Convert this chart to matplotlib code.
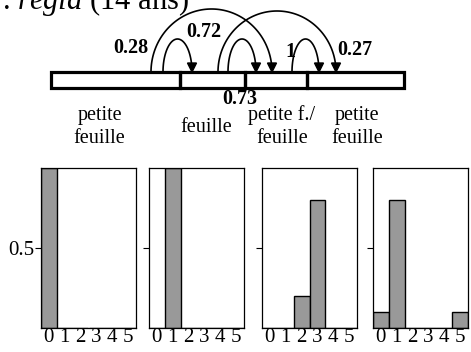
import numpy as np
import matplotlib.pyplot as plt
from matplotlib.patches import Rectangle, Polygon

plt.rcParams['font.family'] = 'Liberation Serif'
plt.rcParams['mathtext.fontset'] = 'custom'
plt.rcParams['mathtext.rm'] = 'Liberation Serif'
plt.rcParams['mathtext.it'] = 'Liberation Serif:italic'

# histogram data (one panel per leaf type)
categories = [0, 1, 2, 3, 4, 5]
panel1 = [1.0, 0, 0, 0, 0, 0]
panel2 = [0, 1.0, 0, 0, 0, 0]
panel3 = [0, 0, 0.2, 0.8, 0, 0]
panel4 = [0.1, 0.8, 0, 0, 0, 0.1]
panels = [panel1, panel2, panel3, panel4]

# transition diagram data
seg_labels = [['petite', 'feuille'], ['feuille'], ['petite f./', 'feuille'], ['petite', 'feuille']]
probs = ['0.28', '0.72', '0.73', '0.27', '1']

W, H = 471, 352
fig = plt.figure(figsize=(W / 100, H / 100), dpi=100)

# ---- top diagram, drawn in pixel coordinates ----
top = fig.add_axes([0, 0, 1, 1])
top.set_xlim(0, W)
top.set_ylim(H, 0)
top.axis('off')

top.text(2, 9, r'. $\mathit{regia}$ (14 ans)', fontsize=22, va='baseline', ha='left')

bar_y0, bar_y1 = 72, 88
edges = [51, 180, 245, 307, 404]
for i in range(4):
    top.add_patch(Rectangle((edges[i], bar_y0), edges[i + 1] - edges[i], bar_y1 - bar_y0,
                            fill=False, lw=2.3, ec='black', zorder=3))

# arcs: start x, end x, height, label position, label alignment
arc_layout = [
    (151, 272, 63, (131, 48), 'center'),
    (163, 192, 33, (204, 32), 'center'),
    (228, 256, 33, (240, 99), 'center'),
    (218, 336, 61, (337, 50), 'left'),
    (292, 319, 33, (290, 52), 'center'),
]
for (x0, x1, h, (lx, ly), ha), p in zip(arc_layout, probs):
    t = np.linspace(np.pi, 0, 120)
    cx, a = (x0 + x1) / 2, (x1 - x0) / 2
    xs = cx + a * np.cos(t)
    ys = bar_y0 - h * np.sin(t)
    # stop the line where the arrowhead starts
    end_part = (t < np.pi / 2) & (ys > bar_y0 - 8)
    top.plot(xs[~end_part], ys[~end_part], color='black', lw=1.2, zorder=4)
    top.add_patch(Polygon([(x1 - 4.5, bar_y0 - 9), (x1 + 4.5, bar_y0 - 9), (x1, bar_y0)],
                          closed=True, color='black', zorder=4))
    top.text(lx, ly, p, fontsize=14.5, fontweight='bold', ha=ha, va='center')

label_x = [99.5, 206, 282, 357]
for x, lines in zip(label_x, seg_labels):
    base = [120, 143] if len(lines) == 2 else [132]
    for b, s in zip(base, lines):
        top.text(x, b, s, fontsize=14.5, ha='center', va='baseline')

# ---- histograms ----
panel_x = [41, 149, 262, 373]
panel_w = 95
py0, py1 = 168, 328
for i, (px, vals) in enumerate(zip(panel_x, panels)):
    ax = fig.add_axes([px / W, 1 - py1 / H, panel_w / W, (py1 - py0) / H])
    ax.bar(categories, vals, width=1, color='#999999', edgecolor='black', lw=1)
    ax.set_xlim(-0.5, 5.5)
    ax.set_ylim(0, 1)
    ax.set_xticks(categories)
    ax.set_xticklabels([str(c) for c in categories], fontsize=15)
    ax.tick_params(axis='x', length=0, pad=0)
    ax.set_yticks([0.5])
    ax.set_yticklabels(['0.5'] if i == 0 else [''], fontsize=15)
    ax.tick_params(axis='y', length=4.5, width=0.8, pad=0)
    for s in ax.spines.values():
        s.set_linewidth(0.9)

fig.savefig('out.png', dpi=100)
